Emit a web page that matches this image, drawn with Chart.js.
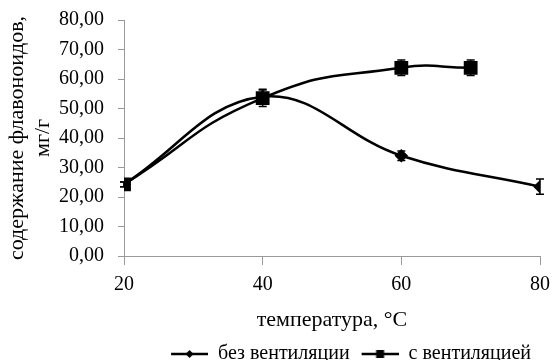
<!DOCTYPE html>
<html>
<head>
<meta charset="utf-8">
<script src="https://cdn.jsdelivr.net/npm/chart.js@4/dist/chart.umd.min.js"></script>
<style>
  html, body { margin: 0; padding: 0; background: #fff; }
  #wrap { width: 552px; height: 360px; }
</style>
</head>
<body>
<div id="wrap"><canvas id="chart" width="552" height="360"></canvas></div>
<script>
const seriesNames = ['без вентиляции', 'с вентиляцией'];
const tempsNoVent = [20, 40, 60, 80];
const flavNoVent = [24.3, 54.0, 34.0, 23.5];
const errNoVent = [0.8, 2.5, 1.6, 2.6];
const tempsVent = [20, 40, 60, 70];
const flavVent = [24.3, 53.5, 63.8, 63.8];
const errVent = [0.8, 2.8, 2.6, 2.6];
const xTicks = [20, 40, 60, 80];
const yMin = 0, yMax = 80, yStep = 10;

const FONT = "'Liberation Serif', 'Times New Roman', serif";

// legend symbol: line with marker, transparent gap on the left acts as item spacing
function legendIcon(kind) {
    const c = document.createElement('canvas');
    c.width = 47; c.height = 14;
    const g = c.getContext('2d');
    g.strokeStyle = '#000';
    g.lineWidth = 2.5;
    g.beginPath(); g.moveTo(10, 7); g.lineTo(47, 7); g.stroke();
    g.fillStyle = '#000';
    if (kind === 'diamond') {
        g.beginPath(); g.moveTo(28.5, 3); g.lineTo(32.5, 7); g.lineTo(28.5, 11); g.lineTo(24.5, 7); g.closePath(); g.fill();
    } else {
        g.fillRect(24.5, 3, 8, 8);
    }
    return c;
}
const icons = [legendIcon('diamond'), legendIcon('square')];

const errorBars = {
    id: 'errorBars',
    afterDatasetsDraw(chart) {
        const ctx = chart.ctx;
        const ys = chart.scales.y;
        const errs = [errNoVent, errVent];
        const vals = [flavNoVent, flavVent];
        ctx.save();
        ctx.strokeStyle = '#000';
        ctx.lineWidth = 1.5;
        chart.data.datasets.forEach((ds, i) => {
            const meta = chart.getDatasetMeta(i);
            meta.data.forEach((pt, j) => {
                const top = ys.getPixelForValue(vals[i][j] + errs[i][j]);
                const bot = ys.getPixelForValue(vals[i][j] - errs[i][j]);
                ctx.beginPath();
                ctx.moveTo(pt.x, top); ctx.lineTo(pt.x, bot);
                ctx.moveTo(pt.x - 4, top); ctx.lineTo(pt.x + 4, top);
                ctx.moveTo(pt.x - 4, bot); ctx.lineTo(pt.x + 4, bot);
                ctx.stroke();
            });
        });
        ctx.restore();
    }
};

// push the legend row to the right like in the original
const legendPlace = {
    id: 'legendPlace',
    beforeDraw(chart) {
        if (chart.legend) chart.legend.right = 533;
    }
};

new Chart(document.getElementById('chart'), {
    type: 'line',
    data: {
        datasets: [{
            label: seriesNames[0],
            data: tempsNoVent.map((t, i) => ({ x: t, y: flavNoVent[i] })),
            borderColor: '#000',
            backgroundColor: '#000',
            borderWidth: 2.5,
            tension: 0.4,
            pointStyle: 'rectRot',
            pointRadius: 5,
            pointHoverRadius: 5,
            fill: false
        }, {
            label: seriesNames[1],
            data: tempsVent.map((t, i) => ({ x: t, y: flavVent[i] })),
            borderColor: '#000',
            backgroundColor: '#000',
            borderWidth: 2.5,
            tension: 0.5,
            pointStyle: 'rect',
            pointRadius: 8,
            pointHoverRadius: 8,
            fill: false
        }]
    },
    options: {
        responsive: false,
        animation: false,
        layout: { padding: { top: 20, right: 12, left: 0, bottom: -14 } },
        plugins: {
            tooltip: { enabled: false },
            legend: {
                position: 'bottom',
                align: 'end',
                labels: {
                    usePointStyle: true,
                    pointStyleWidth: 47,
                    boxHeight: 14,
                    padding: 2,
                    color: '#000',
                    font: { family: FONT, size: 20 },
                    generateLabels(chart) {
                        const items = Chart.defaults.plugins.legend.labels.generateLabels(chart);
                        items.forEach((it, i) => { it.pointStyle = icons[i]; });
                        return items;
                    }
                }
            }
        },
        scales: {
            x: {
                type: 'linear',
                min: 20,
                max: 80,
                afterBuildTicks(scale) { scale.ticks = xTicks.map(v => ({ value: v })); },
                afterFit(scale) {
                    scale.height = 86;
                    scale.paddingLeft = 0;
                    scale.paddingRight = 0;
                },
                grid: { drawOnChartArea: false, drawTicks: true, tickLength: 9, color: '#999' },
                border: { color: '#999', width: 1 },
                ticks: { color: '#000', font: { family: FONT, size: 20 }, padding: 8 },
                title: {
                    display: true,
                    text: 'температура, °C',
                    color: '#000',
                    font: { family: FONT, size: 22 },
                    padding: { top: 6, bottom: 8.5 }
                }
            },
            y: {
                min: yMin,
                max: yMax,
                afterFit(scale) {
                    scale.width = 124;
                    scale.paddingTop = 0;
                    scale.paddingBottom = 0;
                },
                grid: { drawOnChartArea: false, drawTicks: true, tickLength: 6, color: '#999' },
                border: { color: '#999', width: 1 },
                ticks: {
                    stepSize: yStep,
                    color: '#000',
                    font: { family: FONT, size: 20 },
                    padding: 14,
                    callback: v => v.toFixed(2).replace('.', ',')
                },
                title: {
                    display: true,
                    text: ['содержание флавоноидов,', 'мг/г'],
                    color: '#000',
                    font: { family: FONT, size: 22, lineHeight: 1.15 },
                    padding: { top: 5, bottom: 0 }
                }
            }
        }
    },
    plugins: [errorBars, legendPlace]
});
</script>
</body>
</html>
